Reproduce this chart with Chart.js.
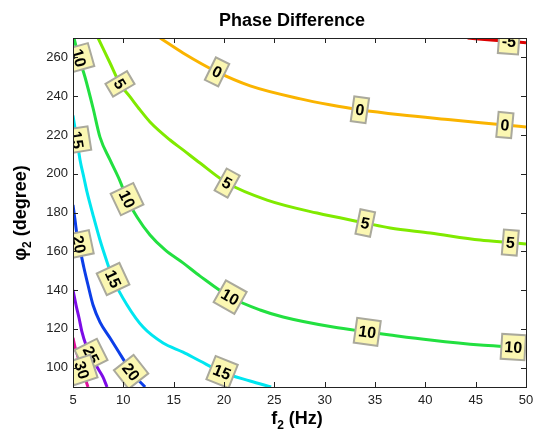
<!DOCTYPE html>
<html>
<head>
<meta charset="utf-8">
<script src="https://cdn.jsdelivr.net/npm/chart.js@4.4.1/dist/chart.umd.min.js"></script>
<style>
  html, body { margin: 0; padding: 0; background: #ffffff; }
  #wrap { width: 534px; height: 434px; }
</style>
</head>
<body>
<div id="wrap"><canvas id="phase" width="534" height="434"></canvas></div>
<script>
// Contour lines, each point is [f2 (Hz), phi2 (degree)]
const levels = [-5, 0, 5, 10, 15, 20, 25, 30];

const contourM5 = [[44.2, 270], [46.5, 269.0], [48.3, 268.3], [50, 267.6]];
const contour0 = [[13.65, 270], [15.93, 262.3], [19.31, 252.5], [22.6, 245.3], [27.6, 238.6], [30.5, 235.6],
  [33.5, 233.0], [37.5, 230.4], [42.5, 227.8], [45.5, 226.3], [47.9, 225.1], [50, 224.1]];
const contour5 = [[7.49, 270], [8.68, 257.1], [9.67, 246.3], [10.67, 239.6], [11.66, 232.9], [12.65, 226.7],
  [14.64, 217.4], [15.93, 212.3], [17.62, 205.5], [20.31, 195.2], [24.28, 186.4], [29.25, 179.7],
  [34.03, 174.6], [36.51, 172.0], [40.49, 169.4], [45.46, 165.8], [48.44, 164.5], [50, 163.8]];
const contour10 = [[5.10, 270], [5.60, 259.7], [6.19, 249.9], [6.99, 233.9], [7.68, 218.9], [8.68, 207.1],
  [9.67, 196.2], [10.37, 186.9], [11.36, 177.7], [12.65, 168.4], [14.15, 160.7], [15.93, 154.0],
  [17.62, 147.2], [20.61, 136.4], [23.59, 129.7], [25.87, 126.1], [30.85, 120.9], [34.23, 118.4],
  [36.51, 116.8], [40.49, 114.2], [45.46, 111.6], [48.74, 110.6], [50, 110.1]];
const contour15 = [[5.0, 230], [5.10, 226.7], [5.40, 217.4], [5.70, 207.1], [6.09, 197.8], [6.39, 190.6],
  [6.99, 178.7], [7.68, 165.8], [8.38, 154.5], [8.98, 145.7], [10.37, 132.3], [11.96, 120.9],
  [13.95, 112.7], [15.93, 108.0], [17.62, 103.4], [19.81, 97.7], [22.59, 93.1], [24.68, 90]];
const contour20 = [[5.0, 183.9], [5.20, 176.1], [5.40, 168.4], [5.60, 163.6], [5.80, 158.5], [6.09, 151.4],
  [6.49, 142.6], [6.99, 132.3], [7.68, 123.5], [8.68, 115.3], [9.97, 104.5], [10.77, 97.8], [12.16, 90]];
const contour25 = [[5.0, 140.0], [5.30, 132.3], [5.60, 125.6], [5.89, 118.4], [6.29, 111.7], [6.79, 106.5],
  [7.39, 100.3], [7.98, 95.1], [8.38, 90]];
const contour30 = [[5.0, 115.3], [5.20, 110.6], [5.50, 105.5], [5.89, 98.8], [6.19, 94.6], [6.49, 90]];

// f2 values where the inline level labels sit
const labelsM5 = [48.3];
const labels0 = [19.31, 33.5, 47.9];
const labels5 = [9.67, 20.31, 34.03, 48.44];
const labels10 = [5.60, 10.37, 20.61, 34.23, 48.74];
const labels15 = [5.40, 8.98, 19.81];
const labels20 = [5.60, 10.77];
const labels25 = [6.79];
const labels30 = [5.89];

const xTicks = [5, 10, 15, 20, 25, 30, 35, 40, 45, 50];
const yTicks = [100, 120, 140, 160, 180, 200, 220, 240, 260];

// Styles
const lineColours = ['#dc0000', '#fab400', '#80ea00', '#22e040', '#00e6f0', '#0c3ee8', '#7c0ce6', '#e0109c'];
const fontFamily = "'Liberation Sans', Arial, sans-serif";
const axisColour = '#222222';

const contours = [contourM5, contour0, contour5, contour10, contour15, contour20, contour25, contour30];
const labelPositions = [labelsM5, labels0, labels5, labels10, labels15, labels20, labels25, labels30];

Chart.defaults.font.family = fontFamily;

const datasets = contours.map(function(pts, i) {
  return {
    label: String(levels[i]),
    data: pts.map(p => ({ x: p[0], y: p[1] })),
    showLine: true,
    borderColor: lineColours[i],
    borderWidth: 3,
    pointRadius: 0,
    cubicInterpolationMode: 'monotone',
    labelAt: labelPositions[i]
  };
});

// clabel-like boxes drawn along each line
const contourLabels = {
  id: 'contourLabels',
  afterDatasetsDraw(chart) {
    const ctx = chart.ctx;
    const area = chart.chartArea;
    const xs = chart.scales.x, ys = chart.scales.y;
    ctx.save();
    ctx.beginPath();
    ctx.rect(area.left, area.top, area.right - area.left, area.bottom - area.top);
    ctx.clip();
    ctx.font = 'bold 16px ' + fontFamily;
    chart.data.datasets.forEach(function(ds, di) {
      const pts = ds.data;
      ds.labelAt.forEach(function(fx) {
        let idx = 0;
        pts.forEach(function(p, k) {
          if (Math.abs(p.x - fx) < Math.abs(pts[idx].x - fx)) idx = k;
        });
        const a = pts[Math.max(idx - 1, 0)], b = pts[Math.min(idx + 1, pts.length - 1)];
        const px = xs.getPixelForValue(pts[idx].x), py = ys.getPixelForValue(pts[idx].y);
        const ang = Math.atan2(ys.getPixelForValue(b.y) - ys.getPixelForValue(a.y),
                               xs.getPixelForValue(b.x) - xs.getPixelForValue(a.x));
        const txt = String(levels[di]);
        const w = ctx.measureText(txt).width + 6, h = 25;
        ctx.save();
        ctx.translate(px, py);
        ctx.rotate(ang);
        ctx.fillStyle = '#fbf7b2';
        ctx.fillRect(-w / 2, -h / 2, w, h);
        ctx.lineWidth = 2;
        ctx.strokeStyle = '#aaa99c';
        ctx.strokeRect(-w / 2, -h / 2, w, h);
        ctx.fillStyle = '#000000';
        ctx.textAlign = 'center';
        ctx.textBaseline = 'middle';
        ctx.fillText(txt, 0, 1);
        ctx.restore();
      });
    });
    ctx.restore();
  }
};

// box, inward ticks, title and axis labels like the matlab figure
const matlabFrame = {
  id: 'matlabFrame',
  afterDraw(chart) {
    const ctx = chart.ctx;
    const a = chart.chartArea;
    const xs = chart.scales.x, ys = chart.scales.y;
    ctx.save();
    ctx.strokeStyle = axisColour;
    ctx.lineWidth = 1;
    ctx.beginPath();
    xs.ticks.forEach(function(t) {
      const p = Math.round(xs.getPixelForValue(t.value)) + 0.5;
      ctx.moveTo(p, a.bottom); ctx.lineTo(p, a.bottom - 5);
      ctx.moveTo(p, a.top); ctx.lineTo(p, a.top + 5);
    });
    ys.ticks.forEach(function(t) {
      const p = Math.round(ys.getPixelForValue(t.value)) + 0.5;
      ctx.moveTo(a.left, p); ctx.lineTo(a.left + 5, p);
      ctx.moveTo(a.right, p); ctx.lineTo(a.right - 5, p);
    });
    ctx.stroke();
    ctx.strokeRect(Math.round(a.left) + 0.5, Math.round(a.top) + 0.5,
                   Math.round(a.right - a.left), Math.round(a.bottom - a.top));

    ctx.fillStyle = '#000000';
    ctx.textBaseline = 'alphabetic';
    ctx.textAlign = 'center';
    ctx.font = 'bold 18px ' + fontFamily;
    ctx.fillText('Phase Difference', 292, 26);

    // x label with subscript
    ctx.textAlign = 'left';
    const big = 'bold 18px ' + fontFamily, small = 'bold 12px ' + fontFamily;
    ctx.font = big; const wf = ctx.measureText('f').width, wr = ctx.measureText(' (Hz)').width;
    ctx.font = small; const ws = ctx.measureText('2').width;
    let x0 = 297 - (wf + ws + wr) / 2;
    ctx.font = big; ctx.fillText('f', x0, 424);
    ctx.font = small; ctx.fillText('2', x0 + wf, 429);
    ctx.font = big; ctx.fillText(' (Hz)', x0 + wf + ws, 424);

    // y label with subscript
    ctx.translate(26, 213);
    ctx.rotate(-Math.PI / 2);
    ctx.font = big; const wp = ctx.measureText('\u03c6').width, wd = ctx.measureText(' (degree)').width;
    x0 = -(wp + ws + wd) / 2;
    ctx.fillText('\u03c6', x0, 0);
    ctx.font = small; ctx.fillText('2', x0 + wp, 5);
    ctx.font = big; ctx.fillText(' (degree)', x0 + wp + ws, 0);
    ctx.restore();
  }
};

new Chart(document.getElementById('phase'), {
  type: 'scatter',
  data: { datasets: datasets },
  options: {
    responsive: false,
    animation: false,
    devicePixelRatio: 1,
    layout: { padding: { top: 38, right: 8, left: 0, bottom: 0 } },
    plugins: {
      legend: { display: false },
      tooltip: { enabled: false },
      title: { display: false }
    },
    scales: {
      x: {
        type: 'linear', min: 5, max: 50,
        grid: { display: false, drawTicks: false },
        border: { display: false },
        ticks: { color: axisColour, font: { size: 13 }, padding: 6, autoSkip: false, maxRotation: 0 },
        afterBuildTicks: s => { s.ticks = xTicks.map(v => ({ value: v })); },
        afterFit: s => { s.height = 47; s.paddingLeft = 0; s.paddingRight = 0; }
      },
      y: {
        type: 'linear', min: 90, max: 270,
        grid: { display: false, drawTicks: false },
        border: { display: false },
        ticks: { color: axisColour, font: { size: 13 }, padding: 5, autoSkip: false },
        afterBuildTicks: s => { s.ticks = yTicks.map(v => ({ value: v })); },
        afterFit: s => { s.width = 73; s.paddingTop = 0; s.paddingBottom = 0; }
      }
    }
  },
  plugins: [contourLabels, matlabFrame]
});
</script>
</body>
</html>
